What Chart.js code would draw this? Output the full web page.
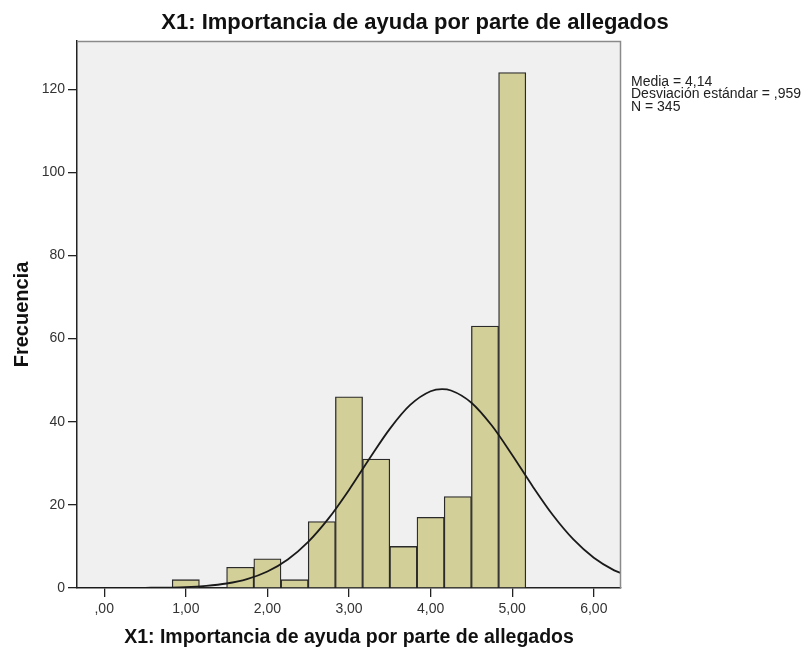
<!DOCTYPE html>
<html>
<head>
<meta charset="utf-8">
<script src="https://cdn.jsdelivr.net/npm/chart.js@4.4.1/dist/chart.umd.min.js"></script>
<style>
  body { margin: 0; background: #ffffff; }
  #caja { width: 808px; height: 647px; position: relative; }
</style>
</head>
<body>
<div id="caja"><canvas id="histograma"></canvas></div>
<script>
// centro de cada intervalo (ancho 1/3) y su frecuencia
var centrosBins = [1, 1.6667, 2, 2.3333, 2.6667, 3, 3.3333, 3.6667, 4, 4.3333, 4.6667, 5];
var frecuencias = [2, 5, 7, 2, 16, 46, 31, 10, 17, 22, 63, 124];

// curva normal
var curvaX = [-0.33, 0, 0.5, 1, 1.25, 1.5, 1.75, 2, 2.25, 2.5, 2.75, 3, 3.25, 3.5, 3.75, 4, 4.14, 4.25, 4.5, 4.75, 5, 5.25, 5.5, 5.75, 6, 6.25, 6.33];
var curvaY = [0, 0, 0.04, 0.22, 0.51, 1.08, 2.14, 3.97, 6.86, 11.09, 16.74, 23.6, 31.1, 38.29, 44.04, 47.33, 47.84, 47.52, 44.58, 39.08, 32.0, 24.48, 17.5, 11.69, 7.29, 4.25, 3.6];

var ticksX = [0, 1, 2, 3, 4, 5, 6];
var etiquetasX = [",00", "1,00", "2,00", "3,00", "4,00", "5,00", "6,00"];
var ticksY = [0, 20, 40, 60, 80, 100, 120];

var titulo = "X1: Importancia de ayuda por parte de allegados";
var estadisticos = ["Media = 4,14", "Desviación estándar = ,959", "N = 345"];

var fuente = "'Liberation Sans', Arial, sans-serif";

var barras = centrosBins.map(function (c, i) {
  return { x: c, y: frecuencias[i] };
});
var curva = curvaX.map(function (x, i) {
  return { x: x, y: curvaY[i] };
});

var fondoYTextos = {
  id: "fondoYTextos",
  beforeDraw: function (chart) {
    var a = chart.chartArea;
    var ctx = chart.ctx;
    ctx.save();
    ctx.fillStyle = "#f0f0f0";
    ctx.fillRect(a.left, a.top, a.right - a.left, a.bottom - a.top);
    ctx.restore();
  },
  afterDraw: function (chart) {
    var a = chart.chartArea;
    var ctx = chart.ctx;
    ctx.save();
    // marco gris arriba y a la derecha
    ctx.strokeStyle = "#8a8a8a";
    ctx.lineWidth = 1.5;
    ctx.beginPath();
    ctx.moveTo(a.left, a.top + 0.5);
    ctx.lineTo(a.right - 0.5, a.top + 0.5);
    ctx.lineTo(a.right - 0.5, a.bottom);
    ctx.stroke();

    ctx.fillStyle = "#111";
    ctx.font = "bold 22px " + fuente;
    ctx.textAlign = "center";
    ctx.textBaseline = "alphabetic";
    ctx.fillText(titulo, 415, 29);

    ctx.font = "14px " + fuente;
    ctx.textAlign = "left";
    ctx.fillStyle = "#222";
    for (var i = 0; i < estadisticos.length; i++) {
      ctx.fillText(estadisticos[i], 631, 85.5 + i * 12.5);
    }
    ctx.restore();
  }
};

new Chart(document.getElementById("histograma"), {
  type: "bar",
  data: {
    datasets: [
      {
        type: "line",
        data: curva,
        borderColor: "#1a1a1a",
        borderWidth: 1.8,
        pointRadius: 0,
        tension: 0.4,
        cubicInterpolationMode: "monotone",
        fill: false,
        order: 0
      },
      {
        type: "bar",
        data: barras,
        backgroundColor: "#d3cf98",
        borderColor: "#2a2a2a",
        borderWidth: 1.3,
        barPercentage: 1,
        categoryPercentage: 1,
        order: 1
      }
    ]
  },
  options: {
    responsive: true,
    maintainAspectRatio: false,
    animation: false,
    layout: { padding: { top: 41, right: 187, bottom: 0, left: 0 } },
    plugins: {
      legend: { display: false },
      tooltip: { enabled: false }
    },
    scales: {
      x: {
        type: "linear",
        min: -1 / 3,
        max: 19 / 3,
        offset: false,
        grid: { offset: false, drawOnChartArea: false, drawTicks: true, tickLength: 9, color: "#222", lineWidth: 1.3 },
        border: { display: true, color: "#222", width: 1.5 },
        afterBuildTicks: function (scale) {
          scale.ticks = ticksX.map(function (v) { return { value: v }; });
        },
        afterFit: function (scale) { scale.height = 59; },
        ticks: {
          padding: 4,
          color: "#333",
          font: { family: fuente, size: 14 },
          maxRotation: 0,
          callback: function (value) {
            return etiquetasX[ticksX.indexOf(value)];
          }
        },
        title: {
          display: true,
          text: titulo,
          color: "#111",
          font: { family: fuente, size: 19.5, weight: "bold", lineHeight: 1 },
          padding: { top: 0, bottom: 0 }
        }
      },
      y: {
        min: 0,
        max: 131.6,
        grid: { drawOnChartArea: false, drawTicks: true, tickLength: 9, color: "#222", lineWidth: 1.3 },
        border: { display: true, color: "#222", width: 1.5 },
        afterBuildTicks: function (scale) {
          scale.ticks = ticksY.map(function (v) { return { value: v }; });
        },
        afterFit: function (scale) { scale.width = 77; },
        ticks: {
          padding: 3,
          color: "#333",
          font: { family: fuente, size: 14 }
        },
        title: {
          display: true,
          text: "Frecuencia",
          color: "#111",
          font: { family: fuente, size: 20, weight: "bold", lineHeight: 1 },
          padding: { top: 12, bottom: 0 }
        }
      }
    }
  },
  plugins: [fondoYTextos]
});
</script>
</body>
</html>
